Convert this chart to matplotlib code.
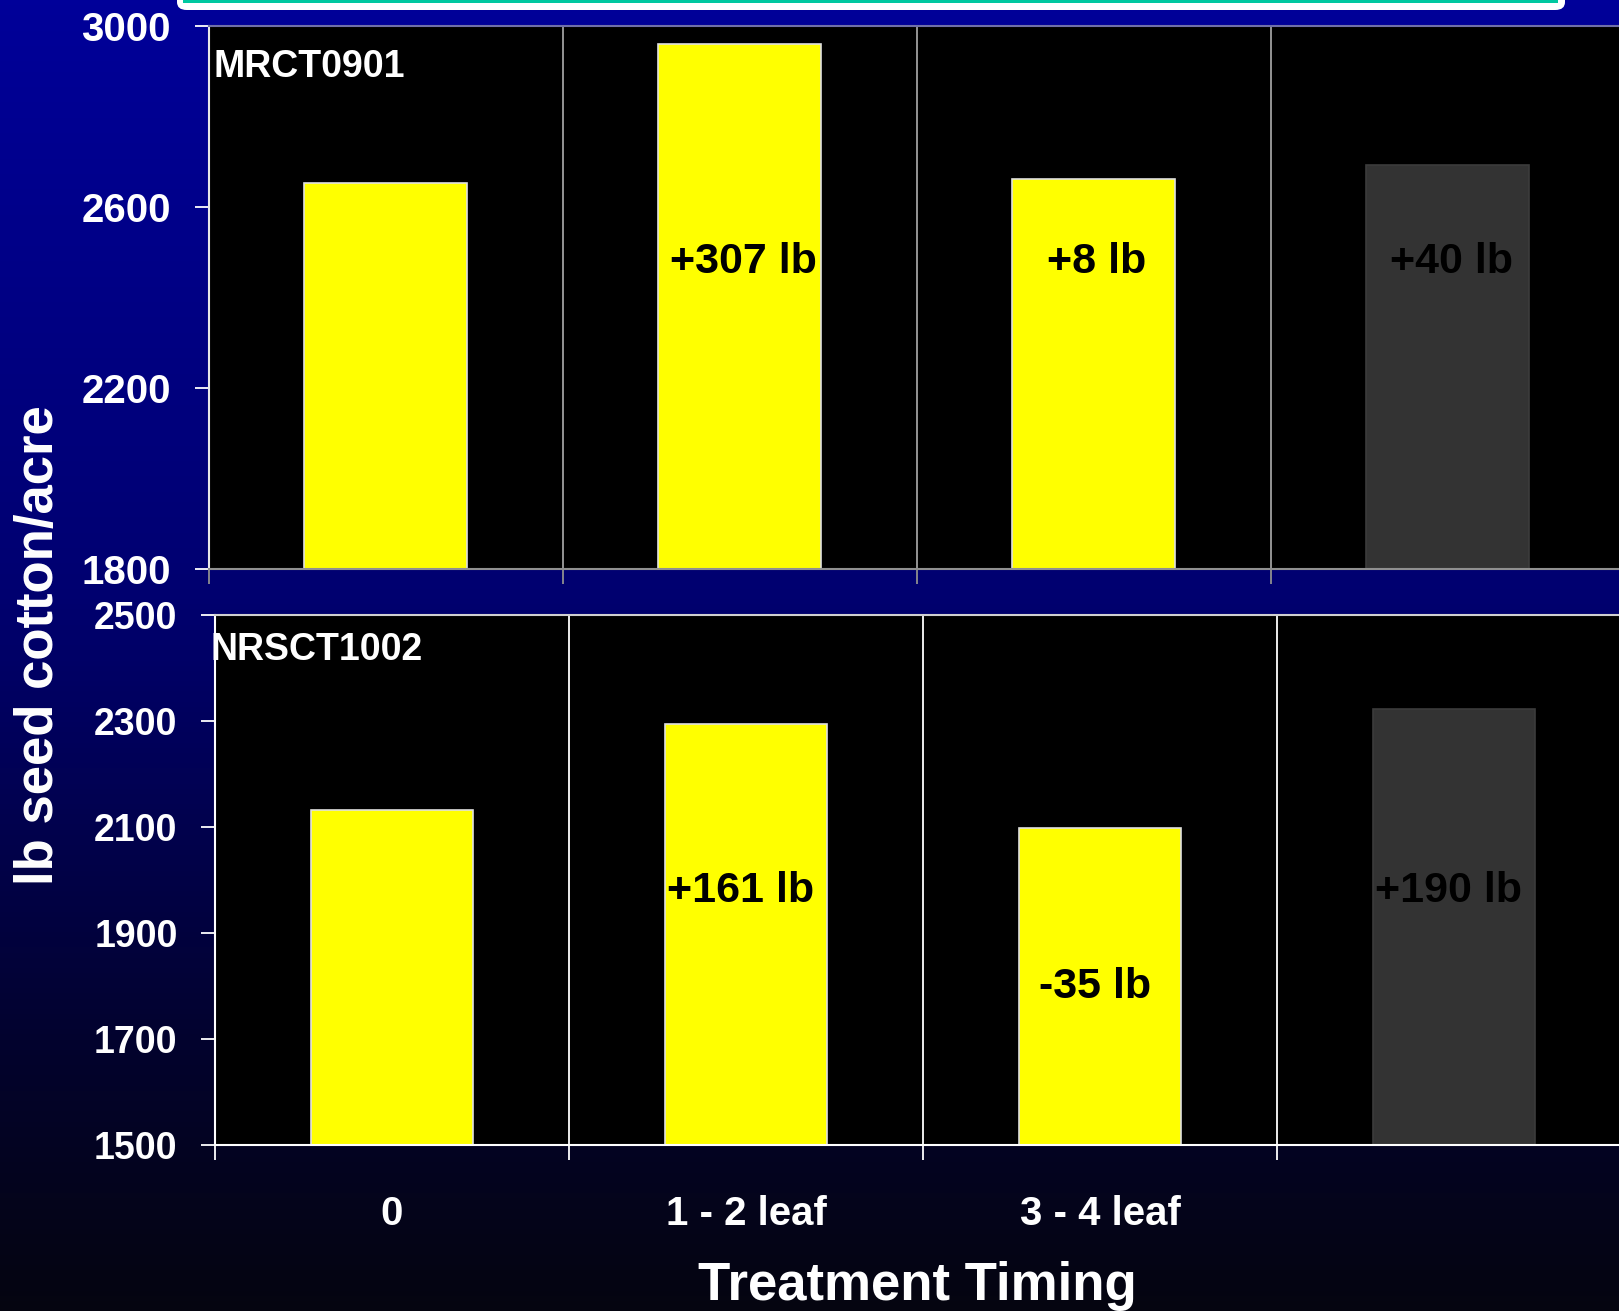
import numpy as np
import matplotlib
matplotlib.use('Agg')
import matplotlib.pyplot as plt
from matplotlib.patches import FancyBboxPatch, Rectangle
from matplotlib.colors import LinearSegmentedColormap

plt.rcParams['font.family'] = ['Liberation Sans', 'DejaVu Sans']
plt.rcParams['font.weight'] = 'bold'

categories = ['0', '1 - 2 leaf', '3 - 4 leaf', '']
top_values = [2653, 2960, 2661, 2693]
bottom_values = [2133, 2294, 2098, 2323]
top_labels = ['', '+307 lb', '+8 lb', '+40 lb']
bottom_labels = ['', '+161 lb', '-35 lb', '+190 lb']
top_label_y = [2454, 2454, 2454, 2454]
bottom_label_y = [1959, 1959, 1777, 1959]
top_ticks = [1800, 2200, 2600, 3000]
bottom_ticks = [1500, 1700, 1900, 2100, 2300, 2500]
bar_colors = ['#ffff00', '#ffff00', '#ffff00', '#333333']
edge_colors = ['#e0e0e0', '#e0e0e0', '#e0e0e0', '#3c3c3c']

W, H = 1619, 1311
fig = plt.figure(figsize=(W / 100, H / 100), dpi=100)

# background gradient
bg = fig.add_axes([0, 0, 1, 1], zorder=-10)
cmap = LinearSegmentedColormap.from_list('bg', [
    (0.0, (0, 0, 153 / 255)),
    (0.45, (0, 0, 112 / 255)),
    (0.8, (0.01, 0.01, 45 / 255)),
    (1.0, (0.02, 0.02, 16 / 255)),
])
bg.imshow(np.linspace(0, 1, 256).reshape(-1, 1), aspect='auto', cmap=cmap,
          extent=[0, 1, 0, 1], origin='upper')
bg.set_axis_off()

# cut-off title box at the top
fig.patches.append(FancyBboxPatch((177 / W, 1 - 10 / H), (1565 - 177) / W, 60 / H,
                                  boxstyle='round,pad=0,rounding_size=0.006',
                                  transform=fig.transFigure, facecolor='white',
                                  edgecolor='none', zorder=1))
fig.patches.append(Rectangle((183 / W, 1 - 3 / H), (1558 - 183) / W, 10 / H,
                             transform=fig.transFigure, facecolor='#00c8a0',
                             edgecolor='none', zorder=2))

x = np.arange(len(categories))


def panel(ax, values, labels, label_y, ticks, name, tick_size, grid_col, spine_cols, dx):
    ax.set_facecolor('black')
    ax.bar(x, values, width=0.46, color=bar_colors, edgecolor=edge_colors, linewidth=1.2)
    ax.set_xlim(-0.5, 3.5)
    ax.set_ylim(ticks[0], ticks[-1])
    for b in [0.5, 1.5, 2.5]:
        ax.axvline(b, color=grid_col, lw=1.3, zorder=0.5)
    for i, t in enumerate(labels):
        if t:
            ax.text(x[i] + dx, label_y[i], t, ha='center', va='baseline',
                    fontsize=31, fontweight='bold', color='black')
    ax.text(0.0035, 0.906, name, transform=ax.transAxes, color='white',
            fontsize=27, fontweight='bold', va='baseline', ha='left')
    ax.set_yticks(ticks)
    ax.set_yticklabels([str(t) for t in ticks], color='white', fontsize=tick_size,
                       fontweight='bold')
    ax.tick_params(axis='y', length=10, width=1.3, color='white', pad=17)
    ax.set_xticks([-0.5, 0.5, 1.5, 2.5], minor=True)
    ax.tick_params(axis='x', which='minor', length=11, width=1.3, color=spine_cols['bottom'])
    ax.spines['right'].set_visible(False)
    for k in ['left', 'bottom', 'top']:
        ax.spines[k].set_color(spine_cols[k])
        ax.spines[k].set_linewidth(1.5)


ax1 = fig.add_axes([208.5 / W, 1 - 569 / H, 1416 / W, 543 / H])
panel(ax1, top_values, top_labels, top_label_y, top_ticks, 'MRCT0901', 29,
      '#a0a0a0', {'left': '#e8e8e8', 'bottom': '#909090', 'top': '#7070a8'}, 0.01)
ax1.set_xticks([])
ax1.set_xticks([-0.5, 0.5, 1.5, 2.5], minor=True)

ax2 = fig.add_axes([215 / W, 1 - 1145 / H, 1416 / W, 530 / H])
panel(ax2, bottom_values, bottom_labels, bottom_label_y, bottom_ticks, 'NRSCT1002', 27,
      '#ffffff', {'left': '#ffffff', 'bottom': '#ffffff', 'top': '#d0d0d0'}, -0.015)
ax2.texts[-1].set_position((-0.003, 0.915))
ax2.set_xticks(x[:3])
ax2.set_xticklabels(categories[:3], color='white', fontsize=29, fontweight='bold')
ax2.tick_params(axis='x', which='major', length=0, pad=36)

ax2.set_ylabel('lb seed cotton/acre', color='white', fontsize=38, fontweight='bold')
ax2.yaxis.set_label_coords((64 - 215) / 1416, (1145 - 645) / 530)

fig.text(917 / W, 1 - 1300 / H, 'Treatment Timing', ha='center', va='baseline',
         color='white', fontsize=38, fontweight='bold')

fig.savefig('out.png', dpi=100)
